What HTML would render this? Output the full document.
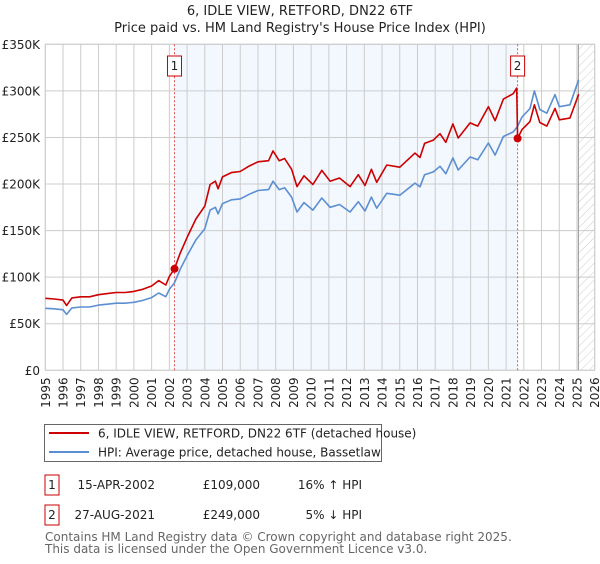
<!DOCTYPE html>
<html><head><meta charset="utf-8"><style>
body{margin:0;background:#fff;font-family:"DejaVu Sans","Liberation Sans",sans-serif;}
svg text{font-family:"DejaVu Sans","Liberation Sans",sans-serif;}
</style></head><body>
<svg id="chart" width="600" height="560" viewBox="0 0 600 560" xmlns="http://www.w3.org/2000/svg">
<defs><pattern id="hatch" width="6" height="6" patternUnits="userSpaceOnUse" patternTransform="rotate(45)"><line x1="0" y1="0" x2="0" y2="6" stroke="#ccc" stroke-width="1"/></pattern></defs>
<text x="300" y="15" text-anchor="middle" font-size="13" fill="#222">6, IDLE VIEW, RETFORD, DN22 6TF</text>
<text x="300" y="32" text-anchor="middle" font-size="13" fill="#222">Price paid vs. HM Land Registry's House Price Index (HPI)</text>
<g id="plot"></g>
<g id="legend">
<rect x="44.5" y="424.5" width="337" height="37" fill="#fff" stroke="#666"/>
<line x1="49" y1="433" x2="89" y2="433" stroke="#cc0000" stroke-width="2"/>
<text x="98" y="437.5" font-size="12" fill="#222">6, IDLE VIEW, RETFORD, DN22 6TF (detached house)</text>
<line x1="49" y1="452" x2="89" y2="452" stroke="#5b8fd1" stroke-width="2"/>
<text x="98" y="456.5" font-size="12" fill="#222">HPI: Average price, detached house, Bassetlaw</text>
</g>
<g font-size="12" fill="#222">
<rect x="45" y="475" width="14" height="20" fill="#fff" stroke="#cc0000"/>
<text x="52" y="489" text-anchor="middle">1</text>
<text x="155" y="489" text-anchor="end">15-APR-2002</text>
<text x="260" y="489" text-anchor="end">£109,000</text>
<text x="362" y="489" text-anchor="end">16% ↑ HPI</text>
<rect x="45" y="505" width="14" height="20" fill="#fff" stroke="#cc0000"/>
<text x="52" y="519" text-anchor="middle">2</text>
<text x="155" y="519" text-anchor="end">27-AUG-2021</text>
<text x="260" y="519" text-anchor="end">£249,000</text>
<text x="362" y="519" text-anchor="end">5% ↓ HPI</text>
</g>
<text x="45" y="541" font-size="12" fill="#666">Contains HM Land Registry data © Crown copyright and database right 2025.</text>
<text x="45" y="553" font-size="12" fill="#666">This data is licensed under the Open Government Licence v3.0.</text>
</svg>
<script>
const hpiYears=[1995.0,1995.5,1996.0,1996.2,1996.5,1997.0,1997.5,1998.0,1998.5,1999.0,1999.5,2000.0,2000.5,2001.0,2001.4,2001.8,2002.0,2002.29,2002.6,2003.0,2003.5,2004.0,2004.3,2004.6,2004.75,2005.0,2005.5,2006.0,2006.5,2007.0,2007.6,2007.85,2008.2,2008.5,2008.9,2009.2,2009.6,2010.1,2010.6,2011.07,2011.6,2012.2,2012.66,2013.04,2013.4,2013.7,2014.27,2015.0,2015.86,2016.14,2016.4,2016.9,2017.27,2017.6,2018.0,2018.3,2018.97,2019.4,2020.0,2020.38,2020.85,2021.4,2021.65,2021.9,2022.35,2022.6,2022.9,2023.3,2023.76,2024.0,2024.6,2025.1];
const hpiValues=[66.6,66,65,60,67,68,68,70,71,72,72,73,75,78,83,79,87,94,108,123,140,152,172,175,168,179,183,184,189,193,194,203,194,196,186,170,180,172,185,175,178,170,181,171,186,174,190,188,201,197,210,213,219,211,228,215,229,226,244,231,251,256,262,272,281,300,280,276,296,283,285,312];
const priceYears=[1995.0,1995.5,1996.0,1996.2,1996.5,1997.0,1997.5,1998.0,1998.5,1999.0,1999.5,2000.0,2000.5,2001.0,2001.4,2001.8,2002.0,2002.29,2002.6,2003.0,2003.5,2004.0,2004.3,2004.6,2004.75,2005.0,2005.5,2006.0,2006.5,2007.0,2007.6,2007.85,2008.2,2008.5,2008.9,2009.2,2009.6,2010.1,2010.6,2011.07,2011.6,2012.2,2012.66,2013.04,2013.4,2013.7,2014.27,2015.0,2015.86,2016.14,2016.4,2016.9,2017.27,2017.6,2018.0,2018.3,2018.97,2019.4,2020.0,2020.38,2020.85,2021.4,2021.6,2021.65,2021.9,2022.35,2022.6,2022.9,2023.3,2023.76,2024.0,2024.6,2025.1];
const priceValues=[77.3,76.6,75.4,69.6,77.7,78.9,78.9,81.2,82.4,83.5,83.5,84.7,87,90.5,96.3,91.6,100.9,109,125.3,142.7,162.4,176.3,199.5,203,194.9,207.6,212.3,213.4,219.2,223.9,225,235.5,225,227.4,215.8,197.2,208.8,199.5,214.6,203,206.5,197.2,210,198.4,215.8,201.8,220.4,218.1,233.2,228.5,243.6,247.1,254,244.8,264.5,249.4,265.6,262.2,283,268,291.2,297,303,249,258.4,267,285,266,262.2,281.2,268.9,270.8,296.4];
const saleYears=[2002.29,2021.65];
const saleValues=[109,249];
const saleLabels=["1","2"];
const yTicks=[0,50,100,150,200,250,300,350];
const yTickLabels=["£0","£50K","£100K","£150K","£200K","£250K","£300K","£350K"];
const xTicks=[1995,1996,1997,1998,1999,2000,2001,2002,2003,2004,2005,2006,2007,2008,2009,2010,2011,2012,2013,2014,2015,2016,2017,2018,2019,2020,2021,2022,2023,2024,2025,2026];

const L=45.3,R=594.7,T=44.3,B=370.3,X0=1995,X1=2026,YMAX=350,DATA_END=2025.08;
const xs=y=>L+(y-X0)/(X1-X0)*(R-L);
const ys=v=>B-v/YMAX*(B-T);
const NS="http://www.w3.org/2000/svg";
const g=document.getElementById('plot');
function mk(tag,attrs){const e=document.createElementNS(NS,tag);for(const k in attrs)e.setAttribute(k,attrs[k]);g.appendChild(e);return e;}
let e;
e=mk('rect',{x:xs(saleYears[0]),y:T,width:xs(saleYears[1])-xs(saleYears[0]),height:B-T,fill:'#eef3fd',opacity:0.7});


e=mk('rect',{x:xs(DATA_END),y:T,width:R-xs(DATA_END),height:B-T,fill:'url(#hatch)'});


yTicks.forEach((t,i)=>{
  e=mk('line',{x1:L,x2:R,y1:ys(t),y2:ys(t),stroke:'#ccc','stroke-width':1});
  
  
  e=mk('text',{x:40,y:ys(t)+4.5,'text-anchor':'end','font-size':12,fill:'#222'});
  e.textContent=yTickLabels[i];
  
  
});
xTicks.forEach(t=>{
  e=mk('line',{x1:xs(t),x2:xs(t),y1:T,y2:B,stroke:'#ccc','stroke-width':1});
  
  
  e=mk('text',{x:0,y:0,'text-anchor':'end','font-size':12,fill:'#222',transform:`translate(${xs(t)+4.5},${B+7}) rotate(-90)`});
  e.textContent=String(t);
  
  
});
e=mk('rect',{x:L,y:T,width:R-L,height:B-T,fill:'none',stroke:'#ccc'});


e=mk('line',{x1:xs(DATA_END),x2:xs(DATA_END),y1:T,y2:B,stroke:'#999','stroke-width':1});


saleYears.forEach((s,i)=>{
  e=mk('line',{x1:xs(s),x2:xs(s),y1:T,y2:B,stroke:'#e05555','stroke-width':1,'stroke-dasharray':'2,2'});
  
  
});
function path(xa,va){return xa.map((x,i)=>(i?'L':'M')+xs(x).toFixed(1)+','+ys(va[i]).toFixed(1)).join('');}
e=mk('path',{d:path(hpiYears,hpiValues),fill:'none',stroke:'#5b8fd1','stroke-width':1.6,'stroke-linejoin':'round'});


e=mk('path',{d:path(priceYears,priceValues),fill:'none',stroke:'#cc0000','stroke-width':1.6,'stroke-linejoin':'round'});


saleYears.forEach((s,i)=>{
  e=mk('circle',{cx:xs(s),cy:ys(saleValues[i]),r:4,fill:'#cc0000'});
  
  
  e=mk('rect',{x:xs(s)-7,y:56,width:14,height:20,fill:'#fff',stroke:'#cc0000'});
  
  
  e=mk('text',{x:xs(s),y:70,'text-anchor':'middle','font-size':12,fill:'#222'});
  e.textContent=saleLabels[i];
  
  
});
</script>
</body></html>
